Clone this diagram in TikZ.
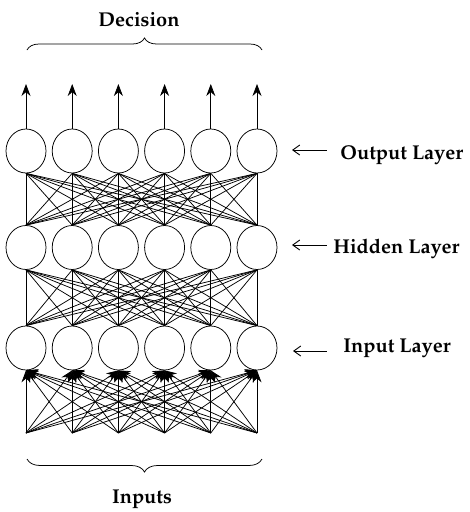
\documentclass[tikz,border=0pt]{standalone}
\usepackage[T1]{fontenc}
\usepackage{mathpazo}
\usetikzlibrary{arrows.meta,decorations.pathreplacing,shapes.geometric}
\tikzset{
	neuron/.style={draw, ellipse, minimum width=40pt, minimum height=44pt, inner sep=0pt},
	lbl/.style={font=\fontsize{20}{24}\selectfont\bfseries, inner sep=0pt},
	tip/.style={-{Stealth[length=12pt,width=9pt]}},
	pointer/.style={{Straight Barb[length=7pt,width=10pt]}-, line width=0.9pt},
	brace/.style={decorate, decoration={brace, amplitude=#1}}
}

\begin{document}
\begin{tikzpicture}[x=1pt, y=-1pt, line width=0.75pt]
		%%%%% START %%%%%
		\useasboundingbox (0,0) rectangle (470,512);
		
		% neurons and inputs
		\foreach \i in {1,...,6} {
			\node[neuron] (o\i) at ({26+46.2*(\i-1)}, 151) {};
			\node[neuron] (h\i) at ({26+46.2*(\i-1)}, 247.5) {};
			\node[neuron] (n\i) at ({26+46.2*(\i-1)}, 348) {};
			\coordinate (x\i) at ({26+46.2*(\i-1)}, 433);
			\coordinate (d\i) at ({26+46.2*(\i-1)}, 84);
			\draw[tip] (o\i.north) -- (d\i);
		}
		
		% weights
		\foreach \i in {1,...,6} {
			\foreach \j in {1,...,6} {
				\draw (o\i.south) -- (h\j.north);
				\draw (h\i.south) -- (n\j.north);
				\draw[tip] (x\i) -- (n\j.south);
			}
		}
		
		% braces
		\draw[brace=12pt] (27,50) -- (262,50);
		\draw[brace=13pt] (262,459) -- (27,459);
		\node[lbl] (dec) at (139,20) {Decision};
		\node[lbl] (inp) at (142,499) {Inputs};
		
		% layer labels
		\node[lbl, anchor=west] (outlbl) at (340,155) {Output Layer};
		\node[lbl, anchor=west] (hidlbl) at (333,249) {Hidden Layer};
		\node[lbl, anchor=west] (inlbl) at (343,348) {Input Layer};
		\coordinate (outarr) at (292,150);
		\coordinate (hidarr) at (292,245);
		\coordinate (inarr) at (293,351);
		\draw[pointer] (outarr) -- ++(35,0);
		\draw[pointer] (hidarr) -- ++(35,0);
		\draw[pointer] (inarr) -- ++(34,0);
		
		%%%%% END %%%%%
	\end{tikzpicture}
\end{document}
